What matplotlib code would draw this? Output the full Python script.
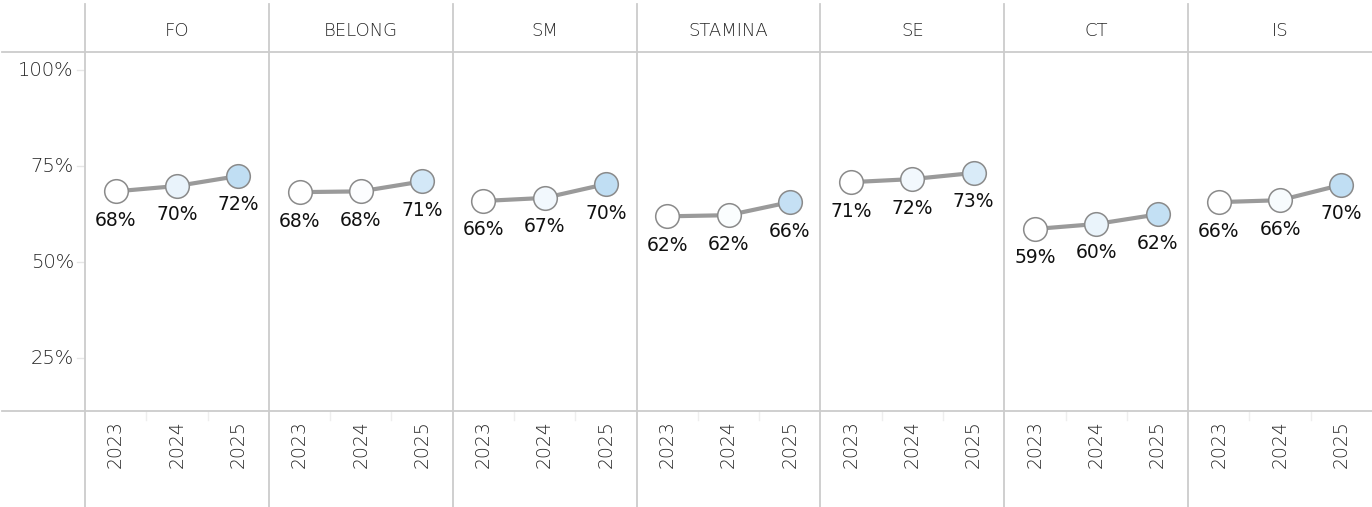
import matplotlib
matplotlib.use("Agg")
import matplotlib.pyplot as plt
from matplotlib.lines import Line2D
from matplotlib.colors import LinearSegmentedColormap
import numpy as np

# survey measures, one panel per measure
measures = ["FO", "BELONG", "SM", "STAMINA", "SE", "CT", "IS"]
years = ["2023", "2024", "2025"]
fo = [68.4, 69.8, 72.4]
belong = [68.2, 68.4, 71.0]
sm = [65.9, 66.7, 70.3]
stamina = [61.9, 62.2, 65.6]
se = [70.8, 71.6, 73.2]
ct = [58.6, 59.9, 62.4]
is_ = [65.6, 66.1, 70.1]
series = [fo, belong, sm, stamina, se, ct, is_]
yticks = [25, 50, 75, 100]

W, H = 1372, 507
fig = plt.figure(figsize=(W / 100, H / 100), dpi=100)

def fx(px):
    return px / W

def fy(py):
    return 1 - py / H

grid_col = "#cccccc"
text_col = "#262626"
left, right = 85, 1372
top, bottom = 52, 411
pw = (right - left) / len(measures)

# fill colour grows with change since the first year
cmap = LinearSegmentedColormap.from_list("chg", ["#ffffff", "#c0def3"])

for i, (name, vals) in enumerate(zip(measures, series)):
    x0 = left + i * pw
    ax = fig.add_axes([fx(x0), fy(bottom), fx(pw), fy(top) - fy(bottom)])
    ax.set_xlim(-0.5, 2.5)
    ax.set_ylim(11.2, 104.7)
    ax.axis("off")
    xs = np.arange(len(vals))
    ax.plot(xs, vals, color="#9a9a9a", lw=3, zorder=2, solid_capstyle="round")
    for x, v in zip(xs, vals):
        c = cmap(min((v - vals[0]) / 4.0, 1.0))
        ax.plot(x, v, "o", ms=17, mfc=c, mec="#8a8a8a", mew=1.1, zorder=3)
        ax.annotate(f"{v:.0f}%", (x, v), xytext=(0, -14), textcoords="offset points",
                    ha="center", va="top", fontsize=13.5, color="#111111")
    fig.text(fx(x0 + pw / 2), fy(31), name, ha="center", va="center",
             fontsize=13, color=text_col, fontweight="light")
    for j, yr in enumerate(years):
        fig.text(fx(x0 + pw * (2 * j + 1) / 6), fy(444), yr, rotation=90,
                 ha="center", va="center", fontsize=13.5, color=text_col,
                 fontweight="light")
        if j > 0:
            xp = fx(x0 + pw * j / 3)
            fig.add_artist(Line2D([xp, xp], [fy(bottom), fy(420)], color="#eeeeee", lw=1))

# y axis labels in the left margin
for t in yticks:
    py = 166 - (t - 75) / 25 * 96
    fig.text(fx(74), fy(py), f"{t}%", ha="right", va="center", fontsize=14,
             color=text_col, fontweight="light")
    fig.add_artist(Line2D([fx(77), fx(84)], [fy(py), fy(py)], color="#e6e6e6", lw=1))

# panel dividers and header / axis rules
for i in range(len(measures)):
    xp = fx(left + i * pw)
    fig.add_artist(Line2D([xp, xp], [fy(4), 0], color=grid_col, lw=1.3))
for py in (top, bottom):
    fig.add_artist(Line2D([fx(2), 1], [fy(py), fy(py)], color=grid_col, lw=1.3))

fig.savefig("out.png", dpi=100, facecolor="white")
